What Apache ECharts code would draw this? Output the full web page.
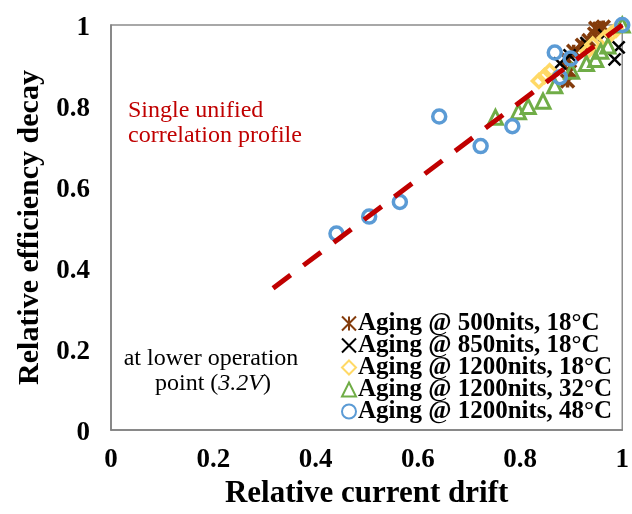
<!DOCTYPE html>
<html>
<head>
<meta charset="utf-8">
<script src="https://cdn.jsdelivr.net/npm/echarts@6/dist/echarts.min.js"></script>
<style>
  html, body { margin: 0; padding: 0; background: #fff; }
  #chart { width: 632px; height: 514px; }
</style>
</head>
<body>
<div id="chart"></div>
<script>
// Relative efficiency decay vs. relative current drift, per aging condition
const seriesNames = [
  'Aging @ 500nits, 18°C',
  'Aging @ 850nits, 18°C',
  'Aging @ 1200nits, 18°C',
  'Aging @ 1200nits, 32°C',
  'Aging @ 1200nits, 48°C'
];

// [current drift, efficiency decay]
const aging500n18C = [
  [0.893, 0.862], [0.897, 0.885], [0.893, 0.915], [0.905, 0.935], [0.922, 0.950],
  [0.935, 0.962], [0.946, 0.978], [0.955, 0.990], [0.963, 0.995], [0.948, 0.992]
];
const aging850n18C = [
  [0.878, 0.905], [0.897, 0.925], [0.930, 0.955], [0.965, 0.975],
  [0.985, 0.915], [0.993, 0.945], [0.993, 1.003]
];
const aging1200n18C = [
  [0.837, 0.862], [0.848, 0.874], [0.858, 0.886], [0.932, 0.935], [0.942, 0.952],
  [0.966, 0.968], [0.978, 0.978], [0.988, 0.988]
];
const aging1200n32C = [
  [0.752, 0.772], [0.797, 0.786], [0.816, 0.799], [0.845, 0.812], [0.868, 0.850],
  [0.901, 0.886], [0.930, 0.905], [0.948, 0.915], [0.958, 0.935], [0.972, 0.948],
  [1.000, 1.000]
];
const aging1200n48C = [
  [0.441, 0.485], [0.505, 0.527], [0.565, 0.563], [0.642, 0.774], [0.723, 0.701],
  [0.785, 0.750], [0.868, 0.932], [0.878, 0.871], [0.899, 0.917], [1.000, 1.000]
];

// Unified linear correlation profile (start and end of the dashed fit)
const fitLine = [[0.317, 0.350], [1.000, 1.000]];

const axisTicks = [0, 0.2, 0.4, 0.6, 0.8, 1];

const serif = "'Liberation Serif', 'Times New Roman', serif";
const starPath = 'path://M0,0L10,10M10,0L0,10M5,0L5,10';
const crossPath = 'path://M0,0L10,10M10,0L0,10';

const chart = echarts.init(document.getElementById('chart'), null, { renderer: 'canvas' });

function fmtTick(v) {
  const r = Math.round(v * 10) / 10;
  return axisTicks.indexOf(r) >= 0 ? String(r) : '';
}

const option = {
  backgroundColor: '#fff',
  animation: false,
  grid: { left: 111, right: 4, top: 25, bottom: 77, show: true, borderColor: '#8c8c8c', borderWidth: 1.5 },
  xAxis: {
    type: 'value', min: 0, max: 1, interval: 0.2,
    name: 'Relative current drift', nameLocation: 'middle', nameGap: 48, nameMoveOverlap: false,
    nameTextStyle: { fontFamily: serif, fontWeight: 'bold', fontSize: 31, color: '#000' },
    axisLine: { show: true, onZero: false, lineStyle: { color: '#7f7f7f', width: 1.5 } },
    axisTick: { show: false },
    splitLine: { show: false },
    axisLabel: { margin: 17, fontFamily: serif, fontWeight: 'bold', fontSize: 27, color: '#000', formatter: fmtTick }
  },
  yAxis: {
    type: 'value', min: 0, max: 1, interval: 0.2,
    name: 'Relative efficiency decay', nameLocation: 'middle', nameGap: 66, nameRotate: 90, nameMoveOverlap: false,
    nameTextStyle: { fontFamily: serif, fontWeight: 'bold', fontSize: 30, color: '#000' },
    axisLine: { show: true, onZero: false, lineStyle: { color: '#7f7f7f', width: 1.5 } },
    axisTick: { show: false },
    splitLine: { show: false },
    axisLabel: {
      margin: 21, fontFamily: serif, fontWeight: 'bold', fontSize: 27, color: '#000',
      // padded rich block keeps the values centred on their ticks
      formatter: function (v) { const s = fmtTick(v); return s ? '{d|' + s + '}' : ''; },
      rich: { d: { fontFamily: serif, fontWeight: 'bold', fontSize: 27, color: '#000', padding: [6, 0, 0, 0] } }
    }
  },
  legend: {
    orient: 'vertical', left: 336, top: 306, itemGap: -3,
    itemWidth: 14, itemHeight: 14,
    data: seriesNames,
    textStyle: { fontFamily: serif, fontWeight: 'bold', fontSize: 25, color: '#000', padding: [0, 0, 0, -3] }
  },
  series: [
    {
      name: seriesNames[0], type: 'scatter', data: aging500n18C,
      symbol: starPath, symbolSize: 13,
      itemStyle: { opacity: 1, color: 'rgba(0,0,0,0)', borderColor: '#843C0C', borderWidth: 3.5 }
    },
    {
      name: seriesNames[1], type: 'scatter', data: aging850n18C,
      symbol: crossPath, symbolSize: 12,
      itemStyle: { opacity: 1, color: 'rgba(0,0,0,0)', borderColor: '#000', borderWidth: 2.5 }
    },
    {
      name: seriesNames[2], type: 'scatter', data: aging1200n18C,
      symbol: 'diamond', symbolSize: 13,
      itemStyle: { opacity: 1, color: 'rgba(255,255,255,0)', borderColor: '#FFD966', borderWidth: 3.5 }
    },
    {
      name: seriesNames[3], type: 'scatter', data: aging1200n32C,
      symbol: 'triangle', symbolSize: 14,
      itemStyle: { opacity: 1, color: 'rgba(255,255,255,0)', borderColor: '#70AD47', borderWidth: 3 }
    },
    {
      name: seriesNames[4], type: 'scatter', data: aging1200n48C,
      symbol: 'circle', symbolSize: 13,
      itemStyle: { opacity: 1, color: 'rgba(255,255,255,0)', borderColor: '#5B9BD5', borderWidth: 3.5 }
    },
    {
      name: 'fit', type: 'line', data: fitLine, symbol: 'none', z: 5,
      lineStyle: { color: '#C00000', width: 5, type: [22, 16], cap: 'butt' }
    }
  ],
  graphic: [
    { type: 'text', left: 128, top: 99, style: { text: 'Single unified', fontFamily: serif, fontSize: 24, fill: '#C00000' } },
    { type: 'text', left: 128, top: 124, style: { text: 'correlation profile', fontFamily: serif, fontSize: 24, fill: '#C00000' } },
    { type: 'text', x: 211, y: 359, style: { text: 'at lower operation', fontFamily: serif, fontSize: 24, fill: '#000', align: 'center', verticalAlign: 'middle' } },
    { type: 'text', x: 213, y: 384, style: {
        text: 'point ({i|3.2V})', fontFamily: serif, fontSize: 24, fill: '#000', align: 'center', verticalAlign: 'middle',
        rich: { i: { fontFamily: serif, fontSize: 24, fontStyle: 'italic', fill: '#000' } }
      } }
  ]
};

chart.setOption(option);
</script>
</body>
</html>
